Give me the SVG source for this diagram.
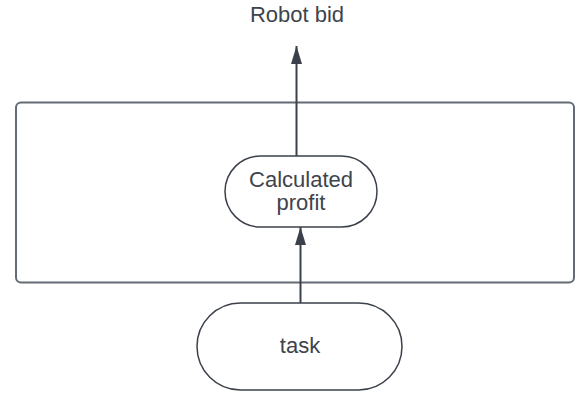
<svg xmlns="http://www.w3.org/2000/svg" width="582" height="394" viewBox="0 0 582 394">
  <defs>
    <!-- filled triangular arrowhead, 18 long by 11 wide -->
    <marker id="arrow" viewBox="0 0 18 11" refX="18" refY="5.5" markerWidth="18" markerHeight="11" markerUnits="userSpaceOnUse" orient="auto">
      <path d="M0,0 L18,5.5 L0,11 Z" fill="#3a414a"/>
    </marker>
  </defs>
  <style>
    .shape { fill: #ffffff; stroke: #3a414a; stroke-width: 1.5; }
    .frame { fill: #ffffff; stroke: #646b74; stroke-width: 2; }
    .label { font-family: "Liberation Sans", Arial, sans-serif; font-size: 22px; fill: #3d444d; text-anchor: middle; }
    .edge { fill: none; stroke: #3a414a; stroke-width: 2; }
  </style>
  <rect width="582" height="394" fill="#ffffff"/>

  <!-- container frame -->
  <g id="frame">
    <rect class="frame" x="16" y="102.5" width="558" height="180" rx="5" ry="5"/>
  </g>

  <!-- output label -->
  <g id="robot-bid">
    <text class="label" x="297" y="22">Robot bid</text>
  </g>

  <g id="calculated-profit">
    <rect class="shape" x="225" y="156" width="152" height="71" rx="35.5" ry="35.5"/>
    <text class="label" x="301" y="186.5">Calculated</text>
    <text class="label" x="301" y="210">profit</text>
  </g>

  <g id="task">
    <rect class="shape" x="197" y="303" width="205" height="87" rx="43.5" ry="43.5"/>
    <text class="label" x="300" y="353">task</text>
  </g>

  <g id="connectors">
    <path class="edge" d="M296.5,156 L296.5,46" marker-end="url(#arrow)"/>
    <path class="edge" d="M300.5,303 L300.5,227" marker-end="url(#arrow)"/>
  </g>
</svg>
